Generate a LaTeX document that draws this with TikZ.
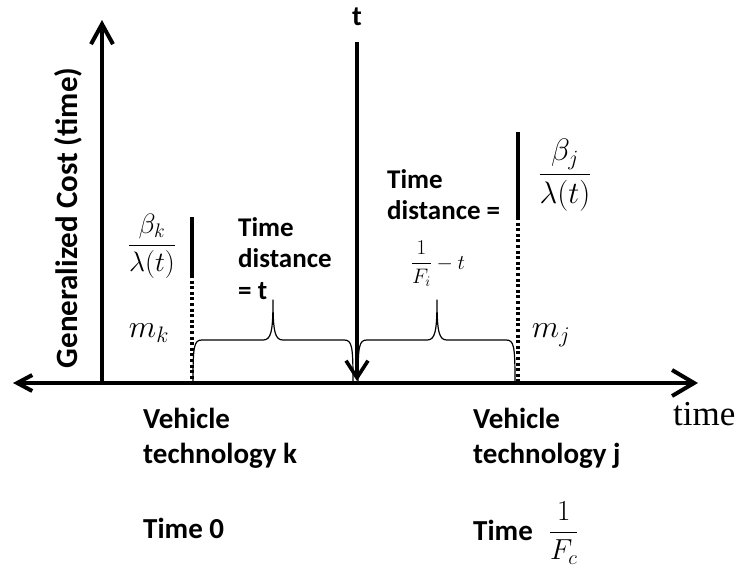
\RequirePackage{fix-cm}
\documentclass[tikz,border=0pt]{standalone}
\usepackage{fontspec}
\usepackage{amsmath}
\setmainfont{Carlito}
\newfontfamily\axisfont{Liberation Serif}
\usetikzlibrary{arrows.meta}
\tikzset{
  veh/.style={inner sep=0pt,font=\bfseries\fontsize{29}{35}\selectfont,align=left},
  gaptxt/.style={inner sep=0pt,font=\bfseries\fontsize{27}{31.5}\selectfont,align=left},
  mth/.style={inner sep=0pt,font=\fontsize{28}{34}\selectfont},
  axis/.style={line width=4pt},
  costline/.style={line width=4pt},
  costdots/.style={line width=4pt,dash pattern=on 3pt off 2.6pt},
  gapbrace/.style={line width=1.2pt,line join=round}
}

\begin{document}
\begin{tikzpicture}[x=1pt,y=-1pt]
\useasboundingbox (0,0) rectangle (742,571);

% axes
\coordinate (ytop) at (102,20);
\coordinate (ybot) at (102,383);
\coordinate (xleft) at (13,383);
\coordinate (xright) at (698,383);
\draw[axis,-{Straight Barb[length=20pt,width=22pt]}] (ybot) -- (ytop);
\draw[axis,{Straight Barb[length=15pt,width=16pt]}-{Straight Barb[length=22pt,width=26pt]}] (xleft) -- (xright);

\node[inner sep=0pt,rotate=90,font=\bfseries\fontsize{31}{36}\selectfont] (ylab) at (68,218) {Generalized Cost (time)};
\node[inner sep=0pt,font=\axisfont\fontsize{35}{40}\selectfont,anchor=base west] (xlab) at (673,425) {time};

% current time t
\node[inner sep=0pt,font=\bfseries\fontsize{28}{34}\selectfont] (tlab) at (357,17) {t};
\coordinate (ttop) at (357,42);
\coordinate (tbot) at (357,381);
\draw[line width=3.6pt,-{Straight Barb[length=17pt,width=22pt]}] (ttop) -- (tbot);

% vehicle k
\coordinate (ktop) at (192,217);
\coordinate (kmid) at (192,275);
\coordinate (kbot) at (192,381);
\draw[costline] (ktop) -- (kmid);
\draw[costdots] (kmid) -- (kbot);
\node[mth] (betak) at (152,246) {$\dfrac{\beta_k}{\lambda(t)}$};
\node[mth,font=\fontsize{32}{38}\selectfont] (mk) at (149,333) {$m_k$};

% vehicle j
\coordinate (jtop) at (518,132);
\coordinate (jmid) at (518,217);
\coordinate (jbot) at (518,381);
\draw[costline] (jtop) -- (jmid);
\draw[costdots] (jmid) -- (jbot);
\node[mth,font=\fontsize{31}{36}\selectfont] (betaj) at (565,175) {$\dfrac{\beta_j}{\lambda(t)}$};
\node[mth,font=\fontsize{32}{38}\selectfont] (mj) at (551,335) {$m_j$};

% time distances
\draw[gapbrace] (193,381) .. controls (193,346) and (194,340) .. (202,340) -- (263,340) .. controls (271,340) and (273,332) .. (273,300) .. controls (273,332) and (275,340) .. (283,340) -- (344,340) .. controls (352,340) and (353,346) .. (353,381);
\draw[gapbrace] (358,381) .. controls (358,346) and (359,340) .. (367,340) -- (427,340) .. controls (435,340) and (437,332) .. (437,300) .. controls (437,332) and (439,340) .. (447,340) -- (506,340) .. controls (514,340) and (515,346) .. (515,381);
\node[gaptxt,anchor=north west] (gapk) at (238,217) {Time\\distance\\= t};
\node[gaptxt,anchor=north west] (gapj) at (387,169) {Time\\distance =};
\node[inner sep=0pt,font=\fontsize{21}{25}\selectfont] (gapjfrac) at (438,264) {$\dfrac{1}{F_i}-t$};

% vehicle labels
\node[veh,anchor=north west] (vehk) at (143,408) {Vehicle\\technology k};
\node[veh,anchor=base west] (timek) at (143,538) {Time 0};
\node[veh,anchor=north west] (vehj) at (473,408) {Vehicle\\technology j};
\node[veh,anchor=base west] (timej) at (473,540) {Time\hspace{0.55em}$\dfrac{1}{F_c}$};
\end{tikzpicture}
\end{document}
